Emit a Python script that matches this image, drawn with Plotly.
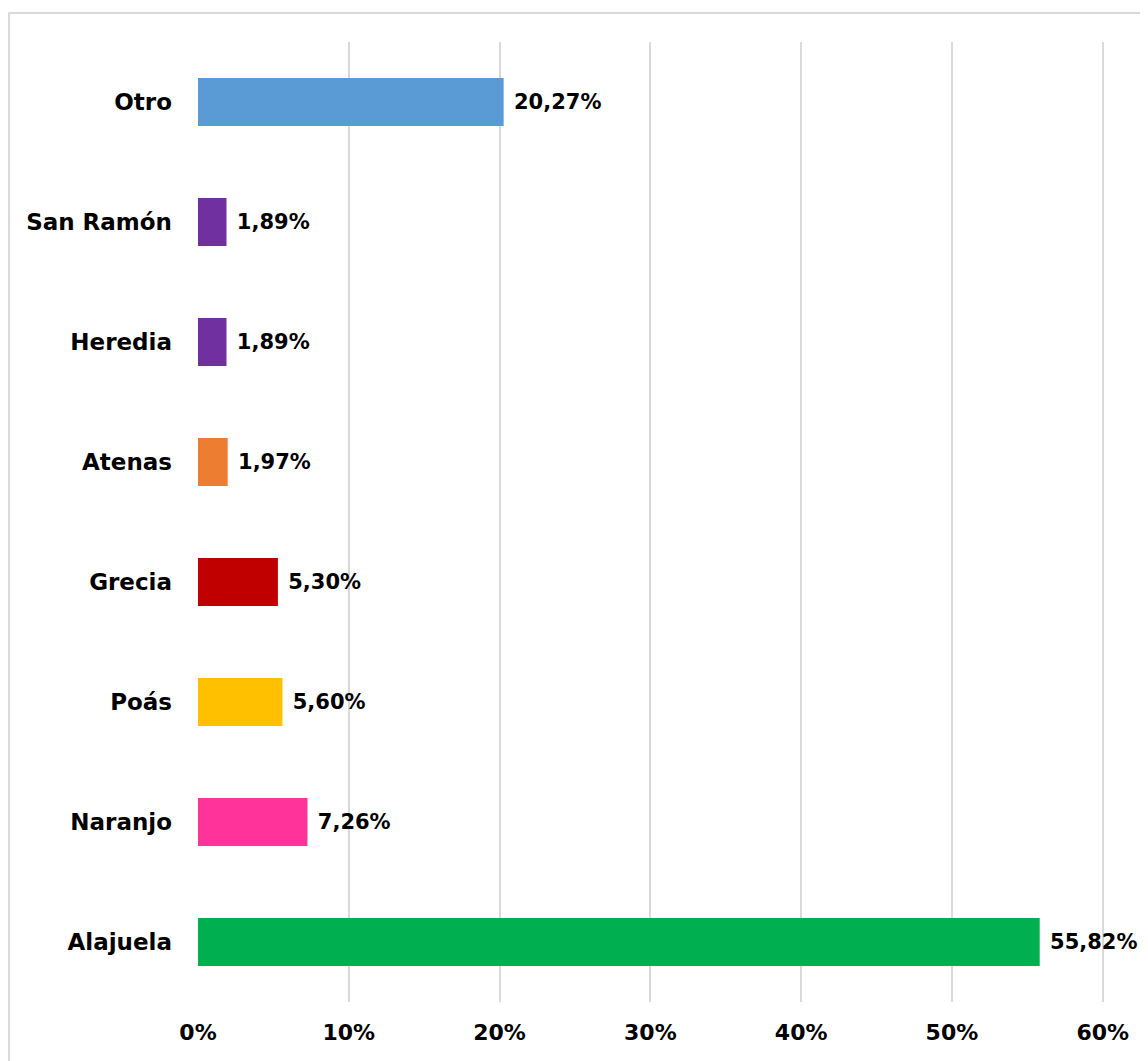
import plotly.graph_objects as go

categories = ["Alajuela", "Naranjo", "Poás", "Grecia", "Atenas", "Heredia", "San Ramón", "Otro"]
values = [55.82, 7.26, 5.60, 5.30, 1.97, 1.89, 1.89, 20.27]
colors = ["#00B050", "#FF3399", "#FFC000", "#C00000", "#ED7D31", "#7030A0", "#7030A0", "#5B9BD5"]
tick_vals = [0, 10, 20, 30, 40, 50, 60]
tick_text = ["0%", "10%", "20%", "30%", "40%", "50%", "60%"]

labels = [" " + f"{v:.2f}".replace(".", ",") + "%" for v in values]

FONT = "DejaVu Sans, sans-serif"

fig = go.Figure(go.Bar(
    x=values, y=categories, orientation="h",
    marker=dict(color=colors, line=dict(width=0)),
    text=labels, textposition="outside", cliponaxis=False,
    textfont=dict(family=FONT, size=21, color="black", weight="bold"),
))

W, H = 1148, 1061
OFF = 8  # page body margin
XMAX = 60.15
L, T = 198 - OFF, 42 - OFF
pw, ph = 905 * XMAX / 60, 960
R = W - L - pw
B = H - T - ph

def px(xp):
    return (xp - OFF - L) / pw

def py(yp):
    return (T + ph - (yp - OFF)) / ph

fig.update_layout(
    width=W, height=H,
    margin=dict(l=L, r=R, t=T, b=B, autoexpand=False),
    paper_bgcolor="white", plot_bgcolor="white",
    bargap=0.6, showlegend=False,
    xaxis=dict(range=[0, XMAX], tickvals=tick_vals, ticktext=tick_text,
               showgrid=True, gridcolor="#D9D9D9", gridwidth=1.5,
               zeroline=False, showline=False, ticklabelstandoff=15,
               automargin=False,
               tickfont=dict(family=FONT, size=22, color="black", weight="bold")),
    yaxis=dict(showgrid=False, zeroline=False, showline=False,
               ticklabelstandoff=25, automargin=False,
               tickfont=dict(family=FONT, size=23, color="black", weight="bold")),
    shapes=[dict(type="rect", xref="paper", yref="paper",
                 x0=px(9), x1=px(1160), y0=py(1075), y1=py(13),
                 line=dict(color="#D9D9D9", width=2), layer="below")],
)

fig.write_html("out.html")
